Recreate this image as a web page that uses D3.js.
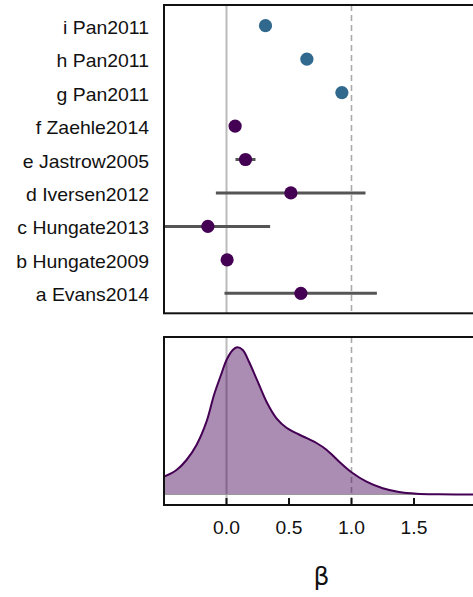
<!DOCTYPE html>
<html><head><meta charset="utf-8">
<script src="https://cdn.jsdelivr.net/npm/d3@7"></script>
<style>body{margin:0;background:#fff;} svg{display:block;}</style>
</head><body>
<script>
// ---- data ----
const studies = ["a Evans2014","b Hungate2009","c Hungate2013","d Iversen2012","e Jastrow2005","f Zaehle2014","g Pan2011","h Pan2011","i Pan2011"];
const estimates = [0.595, 0.005, -0.149, 0.515, 0.152, 0.069, 0.923, 0.643, 0.312];
const ciLow  = [-0.016, null, -0.65, -0.085, 0.072, null, null, null, null];
const ciHigh = [1.203, null, 0.349, 1.112, 0.232, null, null, null, null];
const groups = ["exp","exp","exp","exp","exp","exp","pan","pan","pan"];
const densX = [-0.5,-0.4,-0.32,-0.24,-0.16,-0.1,-0.04,0.0,0.05,0.085,0.13,0.18,0.25,0.32,0.4,0.48,0.58,0.66,0.72,0.8,0.9,1.0,1.12,1.25,1.38,1.52,1.7,2.0];
const densY = [0.178,0.245,0.345,0.495,0.728,0.995,1.21,1.345,1.445,1.472,1.445,1.328,1.128,0.928,0.762,0.668,0.6,0.553,0.515,0.448,0.33,0.222,0.128,0.062,0.025,0.008,0.002,0.0];
const xTicks = [0, 0.5, 1.0, 1.5];
const xTickLabels = ["0.0","0.5","1.0","1.5"];

const W = 473, H = 597;
const colors = {exp:"#440154", pan:"#31688e"};
const svg = d3.select("body").append("svg").attr("width", W).attr("height", H);
const x = d3.scaleLinear().domain([-0.5, 2.0]).range([164, 476.5]);
const topP = {y0: 5, y1: 313.3};
const botP = {y0: 337, y1: 505, base: 494.5};
const y = d3.scalePoint().domain(studies).range([293.3, 25.7]);
const yd = d3.scaleLinear().domain([0, 1.575]).range([botP.base, botP.y0]);

const defs = svg.append("defs");
defs.append("clipPath").attr("id","clipTop").append("rect")
  .attr("x", x(-0.5)).attr("y", topP.y0).attr("width", x(2)-x(-0.5)).attr("height", topP.y1-topP.y0);
defs.append("clipPath").attr("id","clipBot").append("rect")
  .attr("x", x(-0.5)).attr("y", botP.y0).attr("width", x(2)-x(-0.5)).attr("height", botP.y1-botP.y0);

// ---- top panel ----
const gt = svg.append("g").attr("clip-path","url(#clipTop)");
gt.append("line").attr("x1",x(0)).attr("x2",x(0)).attr("y1",topP.y0).attr("y2",topP.y1)
  .attr("stroke","#bbb").attr("stroke-width",2);
gt.append("line").attr("x1",x(1)).attr("x2",x(1)).attr("y1",topP.y0).attr("y2",topP.y1)
  .attr("stroke","#aaa").attr("stroke-width",1.6).attr("stroke-dasharray","6,4");
const rows = studies.map((s,i)=>({s, est:estimates[i], lo:ciLow[i], hi:ciHigh[i], g:groups[i]}));
gt.selectAll("line.ci").data(rows.filter(d=>d.lo!==null)).join("line").attr("class","ci")
  .attr("x1",d=>x(d.lo)).attr("x2",d=>x(d.hi)).attr("y1",d=>y(d.s)).attr("y2",d=>y(d.s))
  .attr("stroke","#555").attr("stroke-width",3);
gt.selectAll("circle").data(rows).join("circle")
  .attr("cx",d=>x(d.est)).attr("cy",d=>y(d.s)).attr("r",6.6).attr("fill",d=>colors[d.g]);
svg.append("rect").attr("x",x(-0.5)).attr("y",topP.y0).attr("width",x(2)-x(-0.5)).attr("height",topP.y1-topP.y0)
  .attr("fill","none").attr("stroke","#111").attr("stroke-width",2);
svg.selectAll("text.lab").data(studies).join("text").attr("class","lab")
  .attr("transform",d=>`translate(149,${y(d)+8}) scale(1.11,1)`)
  .attr("text-anchor","end").attr("font-family","'Liberation Sans',Arial,sans-serif")
  .attr("font-size",17.5).attr("fill","#111").text(d=>d);

// ---- bottom panel ----
const gb = svg.append("g").attr("clip-path","url(#clipBot)");
gb.append("line").attr("x1",x(0)).attr("x2",x(0)).attr("y1",botP.y0).attr("y2",botP.y1)
  .attr("stroke","#bbb").attr("stroke-width",2);
gb.append("line").attr("x1",x(1)).attr("x2",x(1)).attr("y1",botP.y0).attr("y2",botP.y1)
  .attr("stroke","#aaa").attr("stroke-width",1.6).attr("stroke-dasharray","6,4");
const dens = densX.map((v,i)=>[v, densY[i]]);
gb.append("path").datum(dens)
  .attr("d", d3.area().x(d=>x(d[0])).y0(yd(0)).y1(d=>yd(d[1])).curve(d3.curveCatmullRom))
  .attr("fill","#440154").attr("fill-opacity",0.45);
gb.append("line").attr("x1",x(-0.5)).attr("x2",x(2)).attr("y1",yd(0)).attr("y2",yd(0))
  .attr("stroke","#999").attr("stroke-width",1);
gb.append("path").datum(dens)
  .attr("d", d3.line().x(d=>x(d[0])).y(d=>yd(d[1])).curve(d3.curveCatmullRom))
  .attr("fill","none").attr("stroke","#440154").attr("stroke-width",2);
// border: left, top, bottom (axis)
svg.append("path").attr("d",`M${x(2)},${botP.y0}H${x(-0.5)}V${botP.y1}H${x(2)}`)
  .attr("fill","none").attr("stroke","#111").attr("stroke-width",2);
svg.selectAll("line.tick").data(xTicks).join("line").attr("class","tick")
  .attr("x1",d=>x(d)).attr("x2",d=>x(d)).attr("y1",botP.y1).attr("y2",botP.y1-7)
  .attr("stroke","#111").attr("stroke-width",2);
svg.selectAll("text.tl").data(xTicks).join("text").attr("class","tl")
  .attr("transform",d=>`translate(${x(d)},534.3) scale(1.07,1)`)
  .attr("text-anchor","middle").attr("font-family","'Liberation Sans',Arial,sans-serif")
  .attr("font-size",18).attr("fill","#111").text((d,i)=>xTickLabels[i]);
svg.append("text").attr("x",321.5).attr("y",585).attr("text-anchor","middle")
  .attr("font-family","'DejaVu Sans',sans-serif").attr("font-size",25).attr("fill","#111").text("β");
</script>
</body></html>
